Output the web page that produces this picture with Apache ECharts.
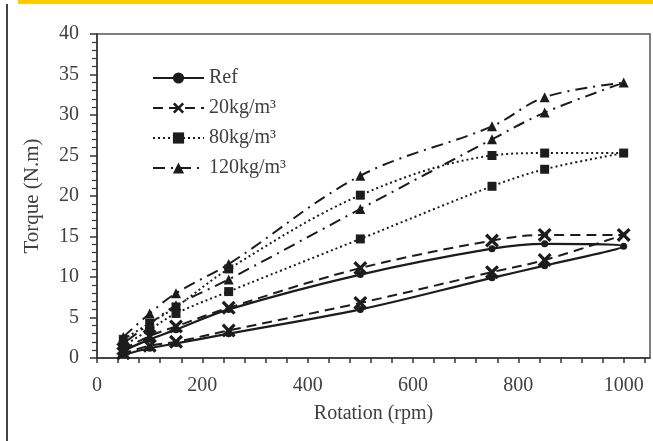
<!DOCTYPE html>
<html>
<head>
<meta charset="utf-8">
<script src="https://cdn.jsdelivr.net/npm/echarts@6/dist/echarts.min.js"></script>
<style>
html,body{margin:0;padding:0;background:#fff;}
#c{width:653px;height:441px;}
</style>
</head>
<body>
<div id="c"></div>
<script>
// Rotation (rpm) along each hysteresis loop: up-branch then down-branch
const rpmLoop = [50, 100, 150, 250, 500, 750, 850, 1000, 850, 750, 500, 250, 150, 100, 50];
const seriesNames = ['Ref', '20kg/m³', '80kg/m³', '120kg/m³'];
const torqueRef   = [0.9, 2.3, 3.5, 6.0, 10.3, 13.5, 14.1, 13.8, 11.4, 9.9, 6.0, 3.0, 1.8, 1.2, 0.4];
const torque20    = [1.1, 2.7, 3.9, 6.2, 11.1, 14.5, 15.2, 15.2, 12.1, 10.6, 6.8, 3.4, 2.0, 1.5, 0.6];
const torque80    = [2.3, 4.3, 6.3, 11.0, 20.1, 25.0, 25.3, 25.3, 23.3, 21.2, 14.7, 8.2, 5.5, 3.5, 1.5];
const torque120   = [2.6, 5.5, 8.0, 11.6, 22.5, 28.6, 32.2, 34.0, 30.3, 27.0, 18.4, 9.7, 6.5, 4.2, 1.8];
const xTickLabels = [0, 200, 400, 600, 800, 1000];
const yTickLabels = [0, 5, 10, 15, 20, 25, 30, 35, 40];

const FONT = 'Liberation Serif';
const TXT = '#404040';
const INK = '#1c1c1c';

function pairs(ys) { return rpmLoop.map((x, i) => [x, ys[i]]); }

const xShape = 'path://M2,0 L6,4 L10,0 L12,2 L8,6 L12,10 L10,12 L6,8 L2,12 L0,10 L4,6 L0,2 Z';

const styles = [
  { data: torqueRef, symbol: 'circle', size: 7, type: 'solid', width: 2.2 },
  { data: torque20, symbol: xShape, size: 14, type: [10, 6], width: 2 },
  { data: torque80, symbol: 'rect', size: 9, type: [2, 3], width: 2 },
  { data: torque120, symbol: 'triangle', size: 10, type: [12, 6, 2, 6], width: 2 }
];

const chart = echarts.init(document.getElementById('c'), null, { renderer: 'canvas' });
chart.setOption({
  animation: false,
  backgroundColor: '#fff',
  graphic: [
    { type: 'rect', shape: { x: 18, y: 0, width: 635, height: 4 }, style: { fill: '#FFCC00' } },
    { type: 'line', shape: { x1: 7, y1: 4, x2: 7, y2: 441 }, style: { stroke: '#444', lineWidth: 2 } }
  ],
  grid: { left: 97, right: 3, top: 34, bottom: 83, show: true, borderColor: '#555', borderWidth: 1.5 },
  legend: {
    orient: 'vertical', left: 147, top: 63,
    itemWidth: 51, itemHeight: 14, itemGap: 10,
    data: seriesNames,
    textStyle: { fontFamily: FONT, fontSize: 20, color: TXT }
  },
  xAxis: {
    type: 'value', min: 0, max: 1050, interval: 40,
    name: 'Rotation (rpm)', nameLocation: 'middle', nameGap: 46,
    nameTextStyle: { fontFamily: FONT, fontSize: 20, color: TXT },
    axisLine: { lineStyle: { color: '#333', width: 1.5 } },
    axisTick: { show: true, length: 5, lineStyle: { color: '#333', width: 1.5 } },
    axisLabel: {
      fontFamily: FONT, fontSize: 20, color: TXT, margin: 18, showMaxLabel: false,
      formatter: v => (xTickLabels.indexOf(v) >= 0 ? String(v) : '')
    },
    splitLine: { show: false }
  },
  yAxis: {
    type: 'value', min: 0, max: 40, interval: 5,
    name: 'Torque (N.m)', nameLocation: 'middle', nameGap: 54,
    nameTextStyle: { fontFamily: FONT, fontSize: 21, color: TXT },
    axisLine: { show: true, lineStyle: { color: '#333', width: 1.5 } },
    axisTick: { show: true, length: 7, lineStyle: { color: '#333', width: 1.5 } },
    minorTick: { show: true, splitNumber: 5, length: 5, lineStyle: { color: '#333', width: 1.2 } },
    axisLabel: {
      fontFamily: FONT, fontSize: 20, color: TXT, margin: 18,
      formatter: v => (yTickLabels.indexOf(v) >= 0 ? String(v) : '')
    },
    splitLine: { show: false }
  },
  series: styles.map((s, i) => ({
    name: seriesNames[i],
    type: 'line',
    data: pairs(s.data),
    smooth: 0.35,
    symbol: s.symbol,
    symbolSize: s.size,
    showAllSymbol: true,
    lineStyle: { color: INK, width: s.width, type: s.type },
    itemStyle: { color: INK, borderWidth: 0 },
    emphasis: { disabled: true }
  }))
});
</script>
</body>
</html>
